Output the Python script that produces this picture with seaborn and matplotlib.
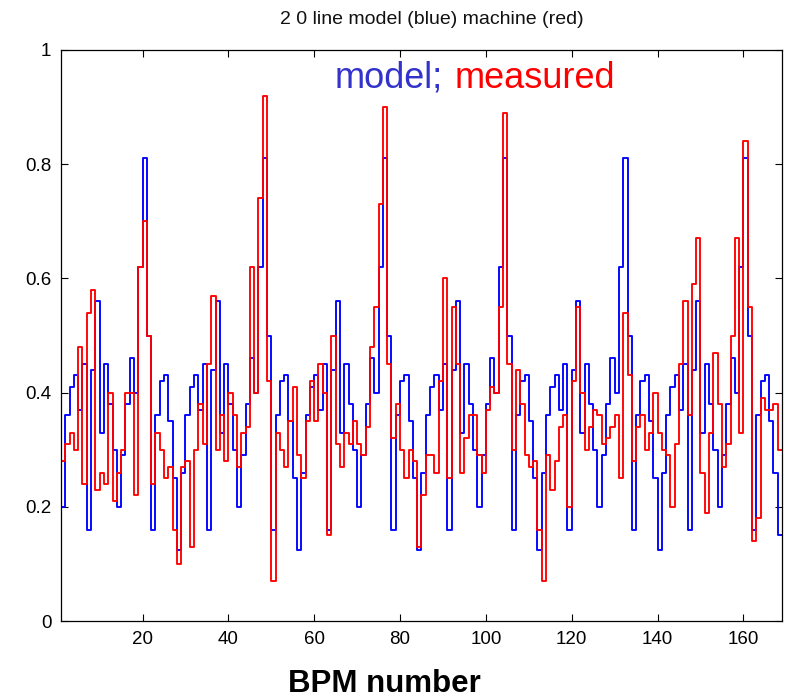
import numpy as np
import pandas as pd
import matplotlib
matplotlib.use("Agg")
import matplotlib.pyplot as plt
import seaborn as sns

# ---------------- data ----------------
bpm = list(range(1, 169))

model_p1 = [0.20, 0.36, 0.41, 0.43, 0.37, 0.45, 0.16, 0.44, 0.56, 0.33, 0.45, 0.38, 0.30, 0.20,
            0.29, 0.38, 0.46, 0.40, 0.62, 0.81, 0.50, 0.16, 0.36, 0.42, 0.43, 0.35, 0.25, 0.125]
model_p2 = [0.26, 0.36, 0.41, 0.43, 0.37, 0.45, 0.16, 0.44, 0.56, 0.33, 0.45, 0.38, 0.30, 0.20,
            0.29, 0.38, 0.46, 0.40, 0.62, 0.81, 0.50, 0.16, 0.36, 0.42, 0.43, 0.35, 0.25, 0.125]
model_p3 = [0.26, 0.36, 0.41, 0.43, 0.37, 0.45, 0.16, 0.44, 0.56, 0.33, 0.45, 0.38, 0.30, 0.20,
            0.29, 0.38, 0.46, 0.40, 0.62, 0.81, 0.50, 0.16, 0.36, 0.42, 0.43, 0.35, 0.25, 0.125]
model_p4 = [0.26, 0.36, 0.41, 0.43, 0.37, 0.45, 0.16, 0.44, 0.56, 0.33, 0.45, 0.38, 0.30, 0.20,
            0.29, 0.38, 0.46, 0.40, 0.62, 0.81, 0.50, 0.16, 0.36, 0.42, 0.43, 0.35, 0.25, 0.125]
model_p5 = [0.26, 0.36, 0.41, 0.43, 0.37, 0.45, 0.16, 0.44, 0.56, 0.33, 0.45, 0.38, 0.30, 0.20,
            0.29, 0.38, 0.46, 0.40, 0.62, 0.81, 0.50, 0.16, 0.36, 0.42, 0.43, 0.35, 0.25, 0.125]
model_p6 = [0.26, 0.36, 0.41, 0.43, 0.37, 0.45, 0.16, 0.44, 0.56, 0.33, 0.45, 0.38, 0.30, 0.20,
            0.29, 0.38, 0.46, 0.40, 0.62, 0.81, 0.50, 0.16, 0.36, 0.42, 0.43, 0.35, 0.26, 0.15]

meas_p1 = [0.28, 0.31, 0.33, 0.30, 0.48, 0.24, 0.54, 0.58, 0.23, 0.26, 0.24, 0.40, 0.21, 0.26,
           0.30, 0.40, 0.40, 0.22, 0.62, 0.70, 0.50, 0.24, 0.33, 0.30, 0.25, 0.27, 0.16, 0.10]
meas_p2 = [0.27, 0.28, 0.13, 0.30, 0.38, 0.31, 0.45, 0.57, 0.30, 0.36, 0.28, 0.40, 0.36, 0.27,
           0.33, 0.34, 0.62, 0.40, 0.74, 0.92, 0.42, 0.07, 0.33, 0.30, 0.27, 0.35, 0.41, 0.29]
meas_p3 = [0.25, 0.35, 0.42, 0.35, 0.45, 0.40, 0.15, 0.50, 0.31, 0.27, 0.33, 0.31, 0.35, 0.31,
           0.29, 0.34, 0.48, 0.55, 0.73, 0.90, 0.45, 0.32, 0.38, 0.30, 0.25, 0.30, 0.28, 0.13]
meas_p4 = [0.22, 0.29, 0.29, 0.26, 0.42, 0.60, 0.25, 0.55, 0.45, 0.26, 0.32, 0.36, 0.36, 0.29,
           0.26, 0.37, 0.41, 0.40, 0.55, 0.89, 0.45, 0.30, 0.44, 0.38, 0.29, 0.27, 0.28, 0.16]
meas_p5 = [0.07, 0.29, 0.23, 0.28, 0.34, 0.36, 0.20, 0.42, 0.55, 0.40, 0.30, 0.34, 0.37, 0.36,
           0.31, 0.32, 0.34, 0.36, 0.25, 0.54, 0.43, 0.28, 0.34, 0.36, 0.30, 0.33, 0.40, 0.33]
meas_p6 = [0.30, 0.29, 0.20, 0.31, 0.45, 0.56, 0.36, 0.59, 0.67, 0.26, 0.19, 0.33, 0.47, 0.38,
           0.27, 0.31, 0.50, 0.67, 0.33, 0.84, 0.55, 0.14, 0.18, 0.39, 0.37, 0.37, 0.38, 0.30]

model = model_p1 + model_p2 + model_p3 + model_p4 + model_p5 + model_p6
measured = meas_p1 + meas_p2 + meas_p3 + meas_p4 + meas_p5 + meas_p6

xticks = [20, 40, 60, 80, 100, 120, 140, 160]
yticks = [0, 0.2, 0.4, 0.6, 0.8, 1]
ytick_labels = ["0", "0.2", "0.4", "0.6", "0.8", "1"]
title_text = "2 0 line model (blue) machine (red)"
xlabel_text = "BPM number"

# ---------------- plotting ----------------
sns.set_style("ticks")
plt.rcParams["font.family"] = ["Liberation Sans", "DejaVu Sans"]

# stairs: each value holds from its BPM to the next one
edges = bpm + [bpm[-1] + 1]
df = pd.concat([
    pd.DataFrame({"bpm": edges, "value": model + [model[-1]], "series": "model"}),
    pd.DataFrame({"bpm": edges, "value": measured + [measured[-1]], "series": "measured"}),
], ignore_index=True)

W, H = 788, 698
fig = plt.figure(figsize=(W / 100, H / 100), dpi=100)
ax = fig.add_axes([61 / W, 1 - 621 / H, 721 / W, 571 / H])

sns.lineplot(data=df, x="bpm", y="value", hue="series",
             hue_order=["model", "measured"],
             palette={"model": "#0000ff", "measured": "#ff0000"},
             estimator=None, sort=False, drawstyle="steps-post",
             linewidth=1.35, legend=False, ax=ax)

ax.set_xlim(1, 169)
ax.set_ylim(0, 1)
ax.set_xticks(xticks)
ax.set_xticklabels([str(t) for t in xticks])
ax.set_yticks(yticks)
ax.set_yticklabels(ytick_labels)
ax.set_xlabel("")
ax.set_ylabel("")
ax.tick_params(direction="in", top=True, right=True, length=5, width=0.8,
               labelsize=13.5, colors="black", pad=7)
for s in ax.spines.values():
    s.set_visible(True)
    s.set_color("black")
    s.set_linewidth(0.9)

fig.text(432 / W, 1 - 19 / H, title_text, ha="center", va="center",
         fontsize=14, color="#111111")

ax.text((335 - 61) / 721, (621 - 88) / 571, "model;", transform=ax.transAxes,
        ha="left", va="baseline", fontsize=26, color="#3333cc")
ax.text((455 - 61) / 721, (621 - 88) / 571, "measured", transform=ax.transAxes,
        ha="left", va="baseline", fontsize=26, color="#ff0000")

fig.text(384 / W, 1 - 684 / H, xlabel_text, ha="center", va="center",
         fontsize=22.5, fontweight="bold", color="black")

fig.savefig("out.png", dpi=100, facecolor="white")
